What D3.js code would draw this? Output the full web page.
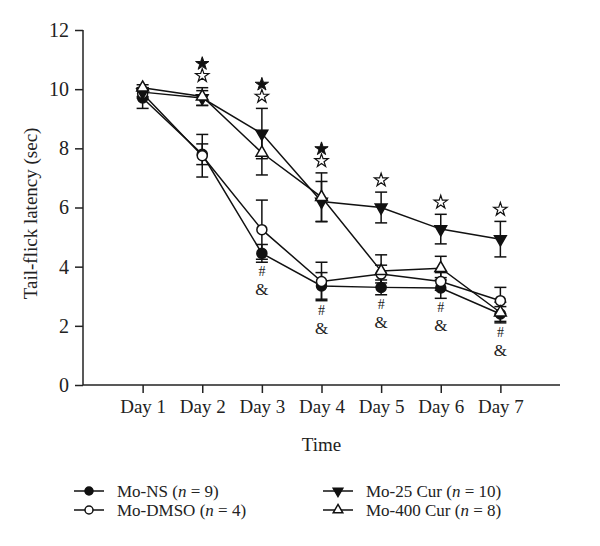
<!DOCTYPE html>
<html lang="en">
<head>
    <meta charset="utf-8">
    <title>Tail-flick latency</title>
    <style>
        body { margin: 0; background: #fff; }
        svg text { font-family: "Liberation Serif", "Times New Roman", serif; fill: #222; }
        .axis path, .axis line { stroke: #222; stroke-width: 1.5px; }
        .series { fill: none; stroke: #111; stroke-width: 1.5px; }
        .err { stroke: #111; stroke-width: 1.5px; }
    </style>
</head>
<body>
<script src="https://cdn.jsdelivr.net/npm/d3@7"></script>
<script>

    // ************** Data *************************************
    var days = [1, 2, 3, 4, 5, 6, 7];
    var dayLabels = ["Day 1", "Day 2", "Day 3", "Day 4", "Day 5", "Day 6", "Day 7"];
    var yTicks = [0, 2, 4, 6, 8, 10, 12];

    var nsMean    = [9.7, 7.8, 4.45, 3.35, 3.3, 3.28, 2.4];
    var nsErr     = [0.35, 0.35, 0.3, 0.45, 0.25, 0.35, 0.25];
    var dmsoMean  = [9.85, 7.75, 5.25, 3.5, 3.75, 3.5, 2.85];
    var dmsoErr   = [0.15, 0.72, 1.0, 0.65, 0.3, 0.3, 0.45];
    var cur25Mean = [9.9, 9.7, 8.5, 6.2, 6.0, 5.27, 4.93];
    var cur25Err  = [0.15, 0.25, 0.85, 0.68, 0.52, 0.5, 0.6];
    var cur400Mean = [10.05, 9.75, 7.85, 6.35, 3.85, 3.95, 2.45];
    var cur400Err  = [0.1, 0.3, 0.75, 0.82, 0.55, 0.4, 0.35];

    // significance marks
    var filledStarDays = [2, 3, 4];
    var openStarDays = [2, 3, 4, 5, 6, 7];
    var hashAmpDays = [3, 4, 5, 6, 7];

    var series = [
        {name: "Mo-NS", n: 9, mean: nsMean, err: nsErr, shape: "circle", fill: "#111"},
        {name: "Mo-DMSO", n: 4, mean: dmsoMean, err: dmsoErr, shape: "circle", fill: "#fff"},
        {name: "Mo-25 Cur", n: 10, mean: cur25Mean, err: cur25Err, shape: "down", fill: "#111"},
        {name: "Mo-400 Cur", n: 8, mean: cur400Mean, err: cur400Err, shape: "up", fill: "#fff"}
    ];

    var width = 600, height = 546;

    var svg = d3.select("body").append("svg")
            .attr("width", width)
            .attr("height", height);

    var x = d3.scaleLinear().domain([0, 8]).range([83, 560]);
    var y = d3.scaleLinear().domain([0, 12]).range([385, 30]);

    // ************** Axes *****************
    var yAxis = svg.append("g")
            .attr("class", "axis")
            .attr("transform", "translate(" + x(0) + ",0)")
            .call(d3.axisLeft(y).tickValues(yTicks).tickSize(8).tickSizeOuter(0).tickPadding(6));
    yAxis.selectAll("text").style("font-size", "20px");

    var xAxis = svg.append("g")
            .attr("class", "axis")
            .attr("transform", "translate(0," + y(0) + ")")
            .call(d3.axisBottom(x).tickValues(days).tickSize(8).tickSizeOuter(0).tickPadding(7)
                .tickFormat(function(d, i) { return dayLabels[i]; }));
    xAxis.selectAll("text").style("font-size", "19px");
    xAxis.select("path.domain").attr("d", "M" + x(0) + ",0H" + x(8));
    yAxis.select("path.domain").attr("d", "M0," + y(0) + "V" + y(12));

    svg.append("text")
            .attr("x", x(4))
            .attr("y", 451)
            .attr("text-anchor", "middle")
            .style("font-size", "19px")
            .text("Time");

    svg.append("text")
            .attr("transform", "translate(37," + y(5.8) + ") rotate(-90)")
            .attr("text-anchor", "middle")
            .style("font-size", "19px")
            .text("Tail-flick latency (sec)");

    // ************** Series *****************
    var line = d3.line()
            .x(function(d) { return x(d.day); })
            .y(function(d) { return y(d.mean); });

    function points(s) {
        return days.map(function(d, i) { return {day: d, mean: s.mean[i], err: s.err[i]}; });
    }

    function marker(sel, s) {
        if (s.shape === "circle") {
            sel.append("circle").attr("r", 5);
        } else {
            sel.append("path")
                .attr("d", d3.symbol().type(d3.symbolTriangle).size(60)())
                .attr("transform", s.shape === "down" ? "rotate(180)" : null);
        }
        sel.selectAll("circle, path")
            .style("fill", s.fill)
            .style("stroke", "#111")
            .style("stroke-width", 1.5);
    }

    series.forEach(function(s) {
        svg.append("path")
            .datum(points(s))
            .attr("class", "series")
            .attr("d", line);
    });

    series.forEach(function(s) {
        var g = svg.append("g");
        var p = points(s);
        g.selectAll("line.v").data(p).enter().append("line")
            .attr("class", "err")
            .attr("x1", function(d) { return x(d.day); })
            .attr("x2", function(d) { return x(d.day); })
            .attr("y1", function(d) { return y(d.mean - d.err); })
            .attr("y2", function(d) { return y(d.mean + d.err); });
        [1, -1].forEach(function(sign) {
            g.selectAll("line.c" + sign).data(p).enter().append("line")
                .attr("class", "err")
                .attr("x1", function(d) { return x(d.day) - 6; })
                .attr("x2", function(d) { return x(d.day) + 6; })
                .attr("y1", function(d) { return y(d.mean + sign * d.err); })
                .attr("y2", function(d) { return y(d.mean + sign * d.err); });
        });
    });

    series.forEach(function(s) {
        svg.selectAll(null).data(points(s)).enter().append("g")
            .attr("transform", function(d) { return "translate(" + x(d.day) + "," + y(d.mean) + ")"; })
            .each(function() { marker(d3.select(this), s); });
    });

    // ************** Significance marks *****************
    function topOf(day) {
        var i = days.indexOf(day);
        return d3.max(series, function(s) { return s.mean[i] + s.err[i]; });
    }
    function bottomOf(day) {
        var i = days.indexOf(day);
        return d3.min(series, function(s) { return s.mean[i] - s.err[i]; });
    }

    var star = d3.symbol().type(d3.symbolStar).size(55)();

    svg.selectAll(null).data(openStarDays).enter().append("path")
        .attr("d", star)
        .attr("transform", function(d) { return "translate(" + x(d) + "," + (y(topOf(d)) - 12) + ")"; })
        .style("fill", "#fff").style("stroke", "#111").style("stroke-width", 1.2);

    svg.selectAll(null).data(filledStarDays).enter().append("path")
        .attr("d", star)
        .attr("transform", function(d) { return "translate(" + x(d) + "," + (y(topOf(d)) - 24) + ")"; })
        .style("fill", "#111").style("stroke", "#111").style("stroke-width", 1);

    svg.selectAll(null).data(hashAmpDays).enter().append("text")
        .attr("x", function(d) { return x(d); })
        .attr("y", function(d) { return y(bottomOf(d)) + 14; })
        .attr("text-anchor", "middle")
        .style("font-size", "14px")
        .text("#");

    svg.selectAll(null).data(hashAmpDays).enter().append("text")
        .attr("x", function(d) { return x(d); })
        .attr("y", function(d) { return y(bottomOf(d)) + 33; })
        .attr("text-anchor", "middle")
        .style("font-size", "17px")
        .text("&");

    // ************** Legend *****************
    var legendPos = [[74, 491], [74, 510], [323, 491], [323, 510]];

    series.forEach(function(s, i) {
        var g = svg.append("g")
            .attr("transform", "translate(" + legendPos[i][0] + "," + legendPos[i][1] + ")");
        g.append("line")
            .attr("x1", 0).attr("x2", 30)
            .style("stroke", "#111").style("stroke-width", 1.5);
        var m = g.append("g").attr("transform", "translate(15,0)");
        marker(m, s);
        m.selectAll("circle").attr("r", 4);
        m.selectAll("path").attr("d", d3.symbol().type(d3.symbolTriangle).size(40)());
        var t = g.append("text")
            .attr("x", 43)
            .attr("dy", "0.33em")
            .style("font-size", "17px");
        t.append("tspan").text(s.name + " (");
        t.append("tspan").style("font-style", "italic").text("n");
        t.append("tspan").text(" = " + s.n + ")");
    });

</script>
</body>
</html>
